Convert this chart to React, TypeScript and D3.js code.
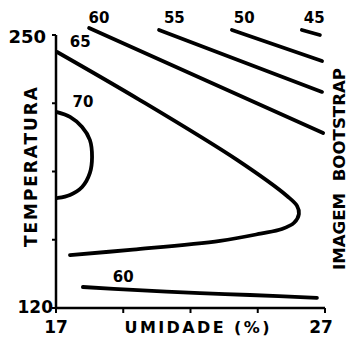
import React from "react";
import * as d3 from "d3";

// Contour lines of the bootstrap image: humidity (%) vs temperature
type Pt = [number, number];

const xDomain: [number, number] = [17, 27];
const yDomain: [number, number] = [120, 250];
const xTicks = [17, 19.5, 22, 24.5, 27];
const yTicks = [120, 152.5, 185, 217.5, 250];
const xTickLabels = ["17", "27"];
const yTickLabels = ["120", "250"];

const contour60Top: Pt[] = [[18.23, 253.3], [26.93, 203.3]];
const contour55: Pt[] = [[20.83, 252.4], [26.89, 222.9]];
const contour50: Pt[] = [[23.54, 252.4], [26.89, 237.6]];
const contour45: Pt[] = [[26.14, 252.4], [26.81, 250.0]];
const contour65: Pt[] = [
  [17.04, 241.9], [20.12, 219.0], [23.73, 190.5], [25.6, 173.2],
  [25.96, 168.6], [26.03, 164.8], [25.85, 160.6], [25.4, 157.6],
  [24.6, 155.4], [23.1, 152.0], [19.86, 147.8], [17.52, 145.2],
];
const contour70: Pt[] = [
  [17.04, 213.3], [17.52, 211.0], [17.97, 206.2], [18.26, 200.0],
  [18.34, 191.9], [18.26, 184.3], [17.97, 177.6], [17.52, 173.8],
  [17.07, 172.4],
];
const contour60Bottom: Pt[] = [
  [18.0, 130.0], [19.86, 128.6], [22.35, 127.1], [24.21, 126.2], [26.7, 124.8],
];

const contours: Pt[][] = [contour60Top, contour55, contour50, contour45, contour65, contour70, contour60Bottom];

const contourLabels: { text: string; x: number; y: number }[] = [
  { text: "60", x: 18.6, y: 255.5 },
  { text: "55", x: 21.4, y: 255.5 },
  { text: "50", x: 24.0, y: 255.5 },
  { text: "45", x: 26.6, y: 255.5 },
  { text: "65", x: 17.9, y: 244.5 },
  { text: "70", x: 18.0, y: 215.5 },
  { text: "60", x: 19.5, y: 132.5 },
];

const FONT = "'DejaVu Sans', 'Liberation Sans', sans-serif";

export default function App() {
  const left = 56;
  const right = 325;
  const top = 35;
  const bottom = 308;

  const x = d3.scaleLinear().domain(xDomain).range([left, right]);
  const y = d3.scaleLinear().domain(yDomain).range([bottom, top]);

  const line = d3
    .line<Pt>()
    .x((d) => x(d[0]))
    .y((d) => y(d[1]))
    .curve(d3.curveCatmullRom.alpha(0.5));

  return (
    <svg
      width={348}
      height={342}
      style={{ position: "absolute", left: 0, top: 0, background: "#fff" }}
    >
      {/* axes */}
      <path
        d={`M${x(xDomain[0])},${y(yDomain[1])}V${y(yDomain[0])}H${x(xDomain[1])}`}
        fill="none"
        stroke="#000"
        strokeWidth={2.5}
      />
      {yTicks.map((t) => (
        <line key={"yt" + t} x1={x(xDomain[0]) - 4} x2={x(xDomain[0])} y1={y(t)} y2={y(t)} stroke="#000" strokeWidth={2} />
      ))}
      {xTicks.map((t) => (
        <line key={"xt" + t} x1={x(t)} x2={x(t)} y1={y(yDomain[0])} y2={y(yDomain[0]) + 5} stroke="#000" strokeWidth={2} />
      ))}

      {/* contour lines */}
      {contours.map((c, i) => (
        <path key={i} d={line(c) || ""} fill="none" stroke="#000" strokeWidth={3.8} strokeLinecap="round" strokeLinejoin="round" />
      ))}

      {contourLabels.map((l, i) => (
        <text key={i} x={x(l.x)} y={y(l.y)} textAnchor="middle" fontFamily={FONT} fontWeight="bold" fontSize={15} fill="#000">
          {l.text}
        </text>
      ))}

      {/* tick labels */}
      <text x={x(xDomain[0]) - 10} y={y(yDomain[1]) + 8} textAnchor="end" fontFamily={FONT} fontWeight="bold" fontSize={18}>
        {yTickLabels[1]}
      </text>
      <text x={x(xDomain[0]) - 3} y={y(yDomain[0]) + 5} textAnchor="end" fontFamily={FONT} fontWeight="bold" fontSize={17}>
        {yTickLabels[0]}
      </text>
      <text x={x(xDomain[0])} y={333} textAnchor="middle" fontFamily={FONT} fontWeight="bold" fontSize={17}>
        {xTickLabels[0]}
      </text>
      <text x={x(xDomain[1]) - 4} y={333} textAnchor="middle" fontFamily={FONT} fontWeight="bold" fontSize={17}>
        {xTickLabels[1]}
      </text>

      {/* axis titles */}
      <text x={197} y={333} textAnchor="middle" fontFamily={FONT} fontWeight="bold" fontSize={16} textLength={145} lengthAdjust="spacing">
        UMIDADE (%)
      </text>
      <text
        transform="translate(37,167) rotate(-90)"
        textAnchor="middle"
        fontFamily={FONT}
        fontWeight="bold"
        fontSize={17}
        textLength={160}
        lengthAdjust="spacing"
      >
        TEMPERATURA
      </text>
      <text
        transform="translate(345,169) rotate(-90)"
        textAnchor="middle"
        fontFamily={FONT}
        fontWeight="bold"
        fontSize={16}
        textLength={202}
        lengthAdjust="spacingAndGlyphs"
        xmlSpace="preserve"
      >
        IMAGEM  BOOTSTRAP
      </text>
    </svg>
  );
}
